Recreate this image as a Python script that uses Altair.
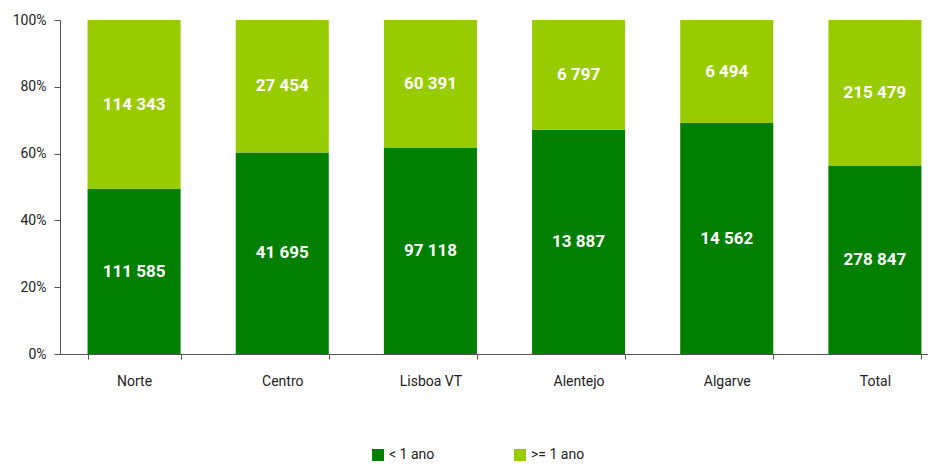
import altair as alt
import pandas as pd

regions = ["Norte", "Centro", "Lisboa VT", "Alentejo", "Algarve", "Total"]
menos_1_ano = [111585, 41695, 97118, 13887, 14562, 278847]
mais_1_ano = [114343, 27454, 60391, 6797, 6494, 215479]
series = ["< 1 ano", ">= 1 ano"]
colors = ["#007F00", "#99CC00"]

rows = []
for r, a, b in zip(regions, menos_1_ano, mais_1_ano):
    rows.append({"region": r, "series": series[0], "order": 0, "value": a})
    rows.append({"region": r, "series": series[1], "order": 1, "value": b})
df = pd.DataFrame(rows)
df["label"] = df["value"].map(lambda v: f"{v:,}".replace(",", " "))

FONT = "Roboto"

base = alt.Chart(df).transform_stack(
    stack="value",
    groupby=["region"],
    as_=["y0", "y1"],
    offset="normalize",
    sort=[alt.SortField("order", order="ascending")],
).transform_calculate(ymid="(datum.y0 + datum.y1) / 2")

x_enc = alt.X(
    "region:N",
    sort=regions,
    title=None,
    scale=alt.Scale(range=[0, 889], paddingInner=0.372, paddingOuter=0.186),
    axis=alt.Axis(
        labelAngle=0,
        tickBand="extent",
        labelFont=FONT,
        labelFontSize=14,
        labelColor="#222222",
        labelPadding=15,
        tickSize=5,
        domainColor="#555555",
        tickColor="#555555",
    ),
)

bars = base.mark_bar().encode(
    x=x_enc,
    y=alt.Y(
        "y0:Q",
        title=None,
        scale=alt.Scale(domain=[0, 1], nice=False),
        axis=alt.Axis(
            values=[0, 0.2, 0.4, 0.6, 0.8, 1.0],
            format=".0%",
            grid=False,
            tickSize=6,
            labelPadding=8,
            labelFont=FONT,
            labelFontSize=14,
            labelColor="#222222",
            domainColor="#555555",
            tickColor="#555555",
        ),
    ),
    y2="y1:Q",
    color=alt.Color(
        "series:N",
        scale=alt.Scale(domain=series, range=colors),
        legend=alt.Legend(
            title=None,
            orient="none",
            legendX=311,
            legendY=428,
            direction="horizontal",
            symbolType="square",
            symbolSize=144,
            symbolStrokeWidth=0,
            labelFont=FONT,
            labelFontSize=14,
            labelColor="#222222",
            labelOffset=4,
            columnPadding=78,
        ),
    ),
    order=alt.Order("order:Q"),
)

labels = base.mark_text(
    color="white", fontWeight="bold", fontSize=17, font=FONT
).encode(
    x=x_enc,
    y=alt.Y("ymid:Q"),
    text="label:N",
)

chart = (
    alt.layer(bars, labels)
    .properties(
        width=868,
        height=334,
        autosize=alt.AutoSizeParams(type="none"),
        padding={"left": 52, "top": 12, "right": 0, "bottom": 108},
    )
    .configure_view(stroke=None)
)

chart.save("out.html", embed_options={"renderer": "svg", "actions": False})
